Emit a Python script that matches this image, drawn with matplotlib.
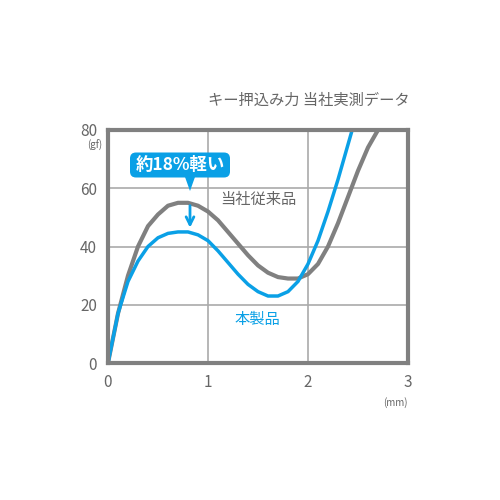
import matplotlib
matplotlib.use("Agg")
import matplotlib.pyplot as plt
from matplotlib.patches import FancyBboxPatch, Polygon

plt.rcParams['font.family'] = ['Noto Sans CJK JP', 'DejaVu Sans']

gray_x = [0,0.1,0.2,0.3,0.4,0.5,0.6,0.7,0.8,0.9,1.0,1.1,1.2,1.3,1.4,1.5,1.6,1.7,1.8,1.9,2.0,2.1,2.2,2.3,2.4,2.5,2.6,2.7,2.75]
gray_y = [0,17,30,40,47,51,54,55,55,54,52,49,45,41,37,33.5,31,29.5,29,29,30.5,34,40,48,57,66,74,80,84]
blue_x = [0,0.1,0.2,0.3,0.4,0.5,0.6,0.7,0.8,0.9,1.0,1.1,1.2,1.3,1.4,1.5,1.6,1.7,1.8,1.9,2.0,2.1,2.2,2.3,2.4,2.45]
blue_y = [0,17,28,35,40,43,44.5,45,45,44,42,38.5,34.5,30.5,27,24.5,23,23,24.5,28,34,42,52,63,75,81]
xticks = [0,1,2,3]
yticks = [0,20,40,60,80]

GRAY = '#808080'
BLUE = '#0aa0e6'
TXT = '#666666'

fig = plt.figure(figsize=(5,5), dpi=100)
ax = fig.add_axes([0.216, 0.274, 0.6, 0.466])
ax.set_xlim(0,3); ax.set_ylim(0,80)
ax.set_xticks(xticks); ax.set_yticks(yticks)
ax.grid(True, color='#aaaaaa', lw=1.2)
ax.tick_params(length=0, labelsize=11, labelcolor=TXT, pad=8)
for s in ax.spines.values():
    s.set_color(GRAY); s.set_linewidth(3)
ax.plot(gray_x, gray_y, color=GRAY, lw=3, clip_on=True)
ax.plot(blue_x, blue_y, color=BLUE, lw=2.5, clip_on=True)

ax.annotate('', xy=(0.82,45.5), xytext=(0.82,55),
            arrowprops=dict(arrowstyle='->', color=BLUE, lw=2, mutation_scale=14))
ax.text(1.12,56,'当社従来品', color=TXT, fontsize=11, ha='left', va='center')
ax.text(1.27,15,'本製品', color=BLUE, fontsize=11, ha='left', va='center')

fig.text(0.82,0.80,'キー押込み力 当社実測データ', color=TXT, fontsize=11, ha='right', va='center')
fig.text(0.19,0.71,'(gf)', color=TXT, fontsize=7, ha='center', va='center')
fig.text(0.79,0.195,'(mm)', color=TXT, fontsize=7, ha='center', va='center')

box = FancyBboxPatch((0.26,0.645),0.20,0.05, boxstyle='round,pad=0,rounding_size=0.012',
                     transform=fig.transFigure, facecolor=BLUE, edgecolor='none')
fig.add_artist(box)
tri = Polygon([[0.37,0.646],[0.39,0.646],[0.38,0.618]], closed=True, transform=fig.transFigure,
              facecolor=BLUE, edgecolor='none')
fig.add_artist(tri)
fig.text(0.36,0.670,'約18%軽い', color='white', fontsize=12.5, fontweight='bold', ha='center', va='center')

fig.savefig('out.png', dpi=100, facecolor='white')
